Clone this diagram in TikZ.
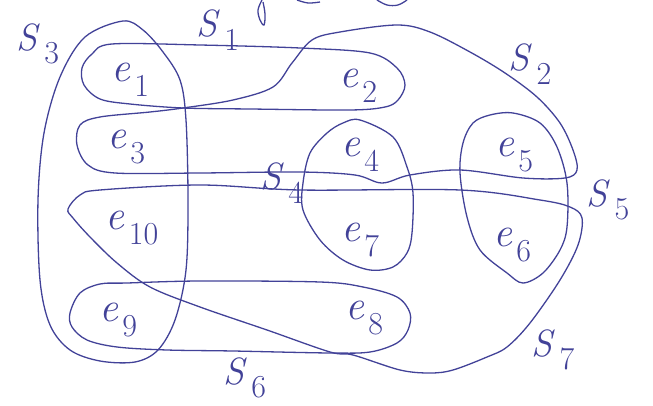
\documentclass[tikz,border=0pt]{standalone}
\usepackage{fontspec}
\usepackage{tikz}
\usetikzlibrary{positioning}
\definecolor{ink}{RGB}{66,66,152}
\newcommand{\elab}[2]{\textit{#1}\kern4pt\raisebox{-.36em}{\fontsize{32}{32}\selectfont #2}}

\begin{document}
\begin{tikzpicture}[x=1pt, y=-1pt, vertex/.style={inner sep=0pt, text=ink, font=\fontsize{42}{42}\selectfont}, hname/.style={inner sep=0pt, text=ink, font=\fontsize{38}{38}\selectfont}, hedge/.style={draw=ink, line width=1.3pt, smooth cycle, tension=0.55}, scrap/.style={draw=ink, line width=1.3pt, smooth, tension=0.6}]
\useasboundingbox (0,0) rectangle (653,406);
% vertices
\node[vertex] (e1) at (130,80) {\elab{e}{1}};
\node[vertex] (e2) at (358,86) {\elab{e}{2}};
\node[vertex] (e3) at (126,147) {\elab{e}{3}};
\node[vertex] (e4) at (360,155) {\elab{e}{4}};
\node[vertex] (e5) at (514,155) {\elab{e}{5}};
\node[vertex] (e10) at (132,228) {\elab{e}{10}};
\node[vertex] (e7) at (360,240) {\elab{e}{7}};
\node[vertex] (e6) at (512,245) {\elab{e}{6}};
\node[vertex] (e9) at (118,320) {\elab{e}{9}};
\node[vertex] (e8) at (364,318) {\elab{e}{8}};
% hyperedge names
\node[hname] (s1) at (218,30) {\elab{S}{1}};
\node[hname] (s2) at (530,64) {\elab{S}{2}};
\node[hname] (s3) at (38,44) {\elab{S}{3}};
\node[hname] (s4) at (282,183) {\elab{S}{4}};
\node[hname] (s5) at (608,200) {\elab{S}{5}};
\node[hname] (s6) at (245,378) {\elab{S}{6}};
\node[hname] (s7) at (553,350) {\elab{S}{7}};
% hyperedges
\draw[hedge] plot coordinates {(112,44) (200,45) (300,48) (370,53) (397,68) (405,85) (398,100) (385,107) (350,110) (250,109) (183,108) (130,104) (100,99) (84,85) (82,68) (92,54)};
\draw[hedge] plot coordinates {(183,108) (233,100) (273,87) (292,63) (312,40) (340,32) (397,25) (430,32) (470,52) (505,73) (537,97) (560,123) (573,150) (577,170) (565,178) (523,178) (460,170) (410,175) (382,183) (355,175) (300,172) (200,173) (115,173) (88,165) (77,145) (80,125) (100,117) (150,112)};
\draw[hedge] plot coordinates {(123,21) (85,37) (60,77) (44,133) (38,200) (40,280) (50,325) (70,350) (100,361) (135,362) (158,350) (175,320) (186,270) (188,200) (186,120) (180,80) (163,52) (143,30)};
\draw[hedge] plot coordinates {(360,120) (393,137) (407,167) (413,193) (412,233) (407,253) (393,267) (370,270) (343,260) (320,240) (303,210) (303,183) (310,153) (327,133) (343,123)};
\draw[hedge] plot coordinates {(490,115) (513,113) (540,123) (557,147) (567,183) (567,227) (560,250) (543,273) (523,283) (507,273) (480,250) (467,217) (460,173) (463,143) (473,123)};
\draw[hedge] plot coordinates {(127,283) (200,281) (320,282) (363,287) (397,297) (410,313) (408,330) (397,343) (370,352) (330,353) (233,351) (167,350) (117,347) (87,340) (72,327) (70,313) (80,293) (100,284)};
\draw[hedge] plot coordinates {(68,209) (80,195) (100,190) (200,185) (300,190) (460,190) (540,200) (570,207) (582,218) (578,245) (560,280) (530,323) (507,347) (487,357) (453,370) (430,373) (400,370) (353,355) (330,352) (267,330) (200,307) (150,287) (117,263) (90,237) (73,218)};
% cut-off strokes at the top edge
\draw[scrap] plot coordinates {(262,0) (258,10) (260,20) (264,25) (265,14) (263,2)};
\draw[scrap] plot coordinates {(297,0) (308,3) (320,2)};
\draw[scrap] plot coordinates {(377,0) (387,5) (398,5) (407,0)};
\end{tikzpicture}
\end{document}
